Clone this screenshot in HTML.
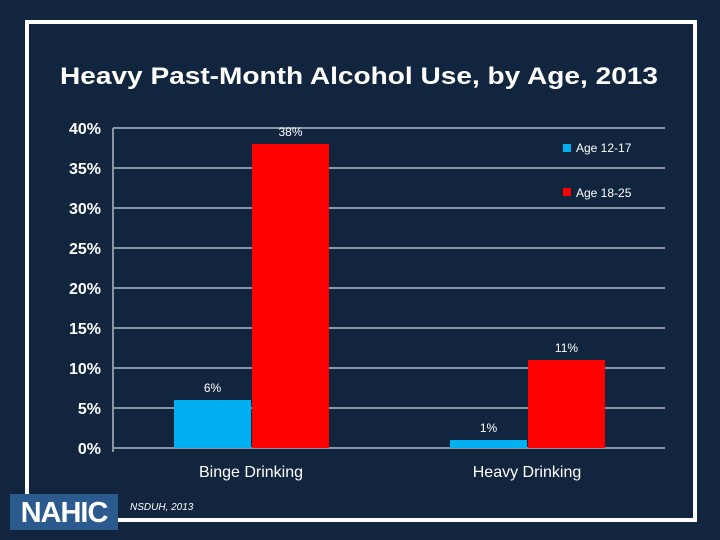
<!DOCTYPE html>
<html><head><meta charset="utf-8"><style>
body{margin:0;background:#12253f;}
svg{display:block;font-family:"Liberation Sans",sans-serif;}
</style></head><body>
<svg width="720" height="540" viewBox="0 0 720 540">
<rect x="0" y="0" width="720" height="540" fill="#12253f"/>
<rect x="27" y="22" width="668" height="498" fill="none" stroke="#ffffff" stroke-width="4"/>
<text x="60" y="84" fill="#fff" font-size="24" font-weight="bold" textLength="598" lengthAdjust="spacingAndGlyphs">Heavy Past-Month Alcohol Use, by Age, 2013</text>
<g id="grid"></g>
<g id="bars"></g>
<g id="labels"></g>
<rect x="563" y="144" width="8" height="8" fill="#00b0f0"/>
<text x="576" y="152" fill="#fff" font-size="12">Age 12-17</text>
<rect x="563" y="188" width="8" height="8" fill="#ff0000"/>
<text x="576" y="197" fill="#fff" font-size="12">Age 18-25</text>
<rect x="10" y="494" width="108" height="36" fill="#2b5b8e"/>
<text x="64" y="522" text-anchor="middle" fill="#fff" font-size="29" font-weight="bold" letter-spacing="-1">NAHIC</text>
<text x="130" y="510" fill="#fff" font-size="10" font-style="italic">NSDUH, 2013</text>
</svg>
<script>
const categories=["Binge Drinking","Heavy Drinking"];
const age1217=[6,1];
const age1825=[38,11];
const ticks=[0,5,10,15,20,25,30,35,40];
const NS="http://www.w3.org/2000/svg";
const x0=113,x1=665,y0=448,yTop=128;
function y(v){return y0-(v/40)*(y0-yTop);}
const catW=(x1-x0)/categories.length;
function cx(i){return x0+catW*(i+0.5);}
function mk(tag,attrs,parent){const e=document.createElementNS(NS,tag);for(const k in attrs)e.setAttribute(k,attrs[k]);parent.appendChild(e);return e;}
const grid=document.getElementById('grid'),bars=document.getElementById('bars'),labels=document.getElementById('labels');
ticks.forEach(t=>{
  const l=mk('line',{x1:x0,x2:x1,y1:y(t),y2:y(t),stroke:'#8a96a4','stroke-width':2},grid);
  
  
  const tx=mk('text',{x:101,y:y(t)+6,'text-anchor':'end',fill:'#fff','font-size':16,'font-weight':'bold'},grid);
  tx.textContent=t+'%';
  
  
});
const ax=mk('line',{x1:x0,x2:x0,y1:yTop,y2:y0+4,stroke:'#8a96a4','stroke-width':2},grid);


const bw=77;
categories.forEach((c,i)=>{
  const series=[[age1217[i],'#00b0f0','age-12-17',-bw],[age1825[i],'#ff0000','age-18-25',1]];
  series.forEach(([v,col,nm,off])=>{
    const r=mk('rect',{x:cx(i)+off,y:y(v),width:bw,height:y0-y(v),fill:col},bars);
    
    
    const t=mk('text',{x:cx(i)+off+bw/2,y:y(v)-8,'text-anchor':'middle',fill:'#fff','font-size':12},labels);
    t.textContent=v+'%';
    
    
  });
  const ct=mk('text',{x:cx(i),y:477,'text-anchor':'middle',fill:'#fff','font-size':16},labels);
  ct.textContent=c;
  
  
});
</script>
</body></html>
